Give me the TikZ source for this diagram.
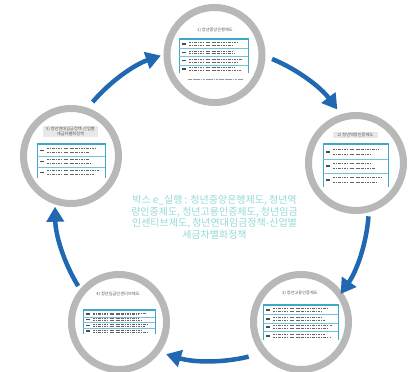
\documentclass[tikz,border=0pt]{standalone}
\usepackage{fontspec}
\newfontfamily\kr{Noto Sans CJK KR}
\usetikzlibrary{arrows.meta}
\definecolor{ringgray}{RGB}{184,184,184}
\definecolor{flowblue}{RGB}{32,104,178}
\definecolor{tealc}{RGB}{62,168,200}
\definecolor{centertxt}{RGB}{150,218,214}
\definecolor{titlebg}{RGB}{232,232,232}
\tikzset{
  ring/.style={circle, draw=ringgray, line width=7pt, fill=white, minimum size=95pt, inner sep=0pt},
  flow/.style={draw=flowblue, line width=4.5pt, -{Triangle[width=17pt,length=15pt]}},
  txt/.style={black!60, line width=0.7pt, dash pattern=on 2pt off 0.8pt on 1.2pt off 1.2pt on 3pt off 0.7pt on 0.8pt off 1.6pt},
  subtxt/.style={black!40, line width=0.8pt, dash pattern=on 1.5pt off 0.4pt on 2.5pt off 0.6pt on 1pt off 0.4pt},
  ttl/.style={font=\kr\fontsize{4.2}{4.8}\selectfont, text=black!65, inner sep=0.8pt, align=center},
  ttlbox/.style={ttl, fill=titlebg}
}
\newcommand{\mytable}[5]{%
\begin{scope}[shift={(#1pt,-#2pt)}]
 \pgfmathsetmacro{\rh}{(#4-2)/#5}
 \draw[tealc, line width=0.4pt] (0,0) -- (0,-#4);
 \draw[tealc, line width=0.4pt] (#3,0) -- (#3,-#4);
 \fill[tealc] (0,0) rectangle (#3,-2);
 \foreach \r in {1,...,#5}{
   \pgfmathsetmacro{\ytop}{-2-(\r-1)*\rh}
   \ifnum\r>1 \draw[tealc!70, line width=0.5pt] (0,\ytop) -- (#3,\ytop); \fi
   \fill[black!70] (2.5,\ytop-\rh/2-0.8) rectangle (7,\ytop-\rh/2+0.8);
   \foreach \k in {1,2}{
     \pgfmathsetmacro{\xe}{#3-2-mod(\r*\k*7,17)}
     \draw[txt] (10,\ytop-\k*\rh/3) -- (\xe,\ytop-\k*\rh/3);
   }
 }
\end{scope}}
\begin{document}
\begin{tikzpicture}[x=1pt,y=1pt]
\useasboundingbox (0,0) rectangle (416,-372);
\fill[white] (0,0) rectangle (416,-372);
\coordinate (O) at (212,-204);
% circles
\node[ring] (c1) at (214.5,-55) {};
\node[ring] (c2) at (356,-163) {};
\node[ring] (c3) at (301,-322) {};
\node[ring] (c4) at (119,-322) {};
\node[ring] (c5) at (71,-156) {};
% circle 1 content
\node[ttl] (t1) at (215,-30) {1) 청년중앙은행제도};
\mytable{179}{38}{69}{35}{4}
\draw[subtxt] (188,-79) -- (243,-79);
% circle 2 content
\node[ttlbox, minimum width=45pt] (t2) at (355.5,-135) {2) 청년역량인증제도};
\mytable{323}{143}{65}{44}{3}
% circle 3 content
\node[ttl] (t3) at (300,-293) {3) 청년고용인증제도};
\mytable{263}{304}{75}{36}{4}
% circle 4 content
\node[ttl] (t4) at (118,-294) {4) 청년임금인센티브제도};
\mytable{83}{309}{72}{25}{4}
% circle 5 content
\node[ttlbox, minimum width=55pt] (t5) at (70.5,-131.5) {5) 청년연대임금정책-산업별\\세금차별화정책};
\mytable{37}{143}{68}{35}{3}
% center text
\node[font=\kr\fontsize{10}{11.5}\selectfont, text=centertxt, align=center] (ctext) at (214.5,-217)
 {박스 e\_실행 : 청년중앙은행제도, 청년역\\량인증제도, 청년고용인증제도, 청년임금\\인센티브제도, 청년연대임금정책-산업별\\세금차별화정책};
% arrows
\draw[flow] ([shift={(67.5:157pt)}]O) arc[start angle=67.5, end angle=37, radius=157pt];
\draw[flow] ([shift={(-4.5:157pt)}]O) arc[start angle=-4.5, end angle=-35, radius=157pt];
\draw[flow] ([shift={(-76.5:157pt)}]O) arc[start angle=-76.5, end angle=-107, radius=157pt];
\draw[flow] ([shift={(-148.5:157pt)}]O) arc[start angle=-148.5, end angle=-179, radius=157pt];
\draw[flow] ([shift={(139.5:157pt)}]O) arc[start angle=139.5, end angle=109, radius=157pt];
\end{tikzpicture}
\end{document}
